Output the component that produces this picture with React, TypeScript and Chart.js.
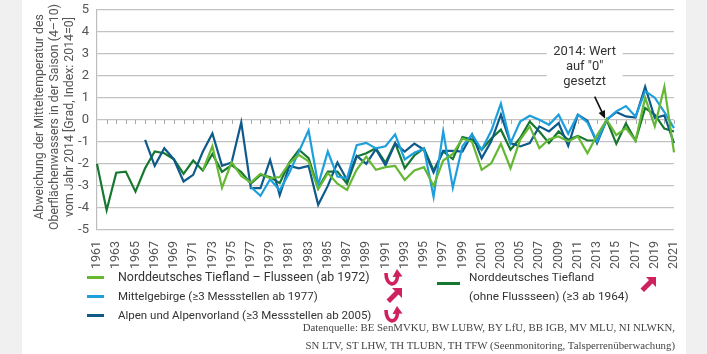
import React, { useEffect, useRef } from "react";
import { Chart, registerables } from "chart.js";

Chart.register(...registerables);

const years = [
  "1961", "1962", "1963", "1964", "1965", "1966", "1967", "1968", "1969", "1970",
  "1971", "1972", "1973", "1974", "1975", "1976", "1977", "1978", "1979", "1980",
  "1981", "1982", "1983", "1984", "1985", "1986", "1987", "1988", "1989", "1990",
  "1991", "1992", "1993", "1994", "1995", "1996", "1997", "1998", "1999", "2000",
  "2001", "2002", "2003", "2004", "2005", "2006", "2007", "2008", "2009", "2010",
  "2011", "2012", "2013", "2014", "2015", "2016", "2017", "2018", "2019", "2020",
  "2021",
];

// Norddeutsches Tiefland – Flusseen (ab 1972)
const flussseen = [
  null, null, null, null, null, null, null, null, null, null, null,
  -2.3, -1.2, -3.08, -1.92, -2.55, -2.85, -2.45, -2.65, -2.6, -1.97,
  -1.59, -1.89, -3.15, -2.42, -2.9, -3.18, -2.27, -1.67, -2.27, -2.15,
  -2.09, -2.73, -2.3, -2.15, -3.0, -1.85, -1.55, -0.85, -1.0, -2.27,
  -1.97, -1.09, -2.2, -0.91, -0.3, -1.29, -0.88, -0.76, -0.98, -0.76,
  -1.52, -0.7, 0, -0.7, -0.38, -0.95, 1.0, -0.3, 1.5, -1.48,
];

// Mittelgebirge (≥3 Messstellen ab 1977)
const mittelgebirge = [
  null, null, null, null, null, null, null, null, null, null,
  null, null, null, null, null, null,
  -3.05, -3.45, -2.7, -3.2, -2.4, -1.44, -0.48, -2.95, -1.44, -2.58,
  -2.65, -1.15, -1.05, -1.3, -1.2, -0.66, -1.8, -1.5, -1.32, -3.5,
  -0.53, -3.08, -1.2, -0.66, -1.36, -0.5, 0.73, -1.06, -0.08, 0.18,
  0, -0.23, 0.23, -0.64, 0.23, -0.12, -0.98, 0, 0.38, 0.62,
  0.15, 1.3, 1.0, 0.35, -0.38,
];

// Alpen und Alpenvorland (≥3 Messstellen ab 2005)
const alpen = [
  null, null, null, null, null,
  -0.91, -2.09, -1.29, -1.8, -2.8, -2.5, -1.45, -0.62, -2.09, -1.94,
  -0.12, -3.1, -3.1, -1.82, -3.42, -2.09, -2.2, -2.09, -3.86, -3.0,
  -1.94, -2.73, -1.64, -2.0, -1.33, -2.07, -1.08, -1.44, -1.08, -1.36,
  -2.39, -1.41, -1.41, -1.44, -0.66, -1.74, -0.98, 0.23, -1.06, -1.21,
  -1.06, -0.3, -0.53, -0.15, -1.18, 0.23, -0.05, -1.06, 0, 0.35,
  0.15, 0.1, 1.5, 0.08, 0.2, -1.06,
];

// Norddeutsches Tiefland (ohne Flussseen) (≥3 ab 1964)
const tiefland = [
  -2.0, -4.1, -2.4, -2.35, -3.26, -2.2, -1.44, -1.52, -1.79, -2.45,
  -1.85, -2.3, -1.55, -2.36, -2.06, -2.37, -2.9, -2.5, -2.6, -2.88,
  -1.94, -1.36, -1.74, -3.1, -2.35, -2.35, -2.9, -1.67, -1.52, -1.29,
  -1.95, -1.05, -2.2, -1.62, -1.3, -2.3, -1.44, -1.78, -0.78, -0.9,
  -1.36, -0.85, -0.45, -1.36, -0.83, -0.08, -0.53, -1.06, -0.53, -0.91,
  -0.73, -0.94, -0.94, 0, -1.09, -0.17, -0.95, 0.53, 0.23, -0.4,
  -0.53,
];

const seriesLabels = [
  "Norddeutsches Tiefland – Flusseen (ab 1972)",
  "Mittelgebirge (≥3 Messstellen ab 1977)",
  "Alpen und Alpenvorland (≥3 Messstellen ab 2005)",
  "Norddeutsches Tiefland (ohne Flussseen) (≥3 ab 1964)",
];
const annotationLines = ["2014: Wert", "auf \"0\"", "gesetzt"];
const annotationYear = "2014";

const C_LGREEN = "#64b834";
const C_LBLUE = "#1c9fdc";
const C_DBLUE = "#0e5a8a";
const C_DGREEN = "#16772f";
const PINK = "#cf215f";
const FONT = "Roboto, 'Noto Sans', sans-serif";

const zeroTicks = {
  id: "zeroTicks",
  beforeDatasetsDraw(chart: any) {
    const { ctx } = chart;
    const x = chart.scales.x;
    const y = chart.scales.y;
    const y0 = Math.round(y.getPixelForValue(0));
    ctx.save();
    ctx.strokeStyle = "#a8a8a8";
    ctx.lineWidth = 1;
    ctx.beginPath();
    for (let i = 1; i < years.length; i++) {
      const px = Math.round(x.getPixelForValue(i)) + 0.5;
      ctx.moveTo(px, y0);
      ctx.lineTo(px, y0 + 4);
    }
    ctx.stroke();
    ctx.restore();
  },
};

const annotation = {
  id: "annotation2014",
  afterDraw(chart: any) {
    const { ctx } = chart;
    const x = chart.scales.x;
    const y = chart.scales.y;
    const tx = x.getPixelForValue(years.indexOf(annotationYear));
    const ty = y.getPixelForValue(0);
    const cx = tx - 22;
    const boxTop = y.getPixelForValue(3.45);
    const boxBottom = y.getPixelForValue(1.36);
    ctx.save();
    ctx.fillStyle = "#ffffff";
    ctx.fillRect(cx - 38, boxTop, 76, boxBottom - boxTop);
    ctx.fillStyle = "#333333";
    ctx.font = `13px ${FONT}`;
    ctx.textAlign = "center";
    ctx.textBaseline = "middle";
    const vals = [3.09, 2.41, 1.73];
    annotationLines.forEach((t, i) => ctx.fillText(t, cx, y.getPixelForValue(vals[i])));
    const sx = tx - 12;
    const sy = y.getPixelForValue(1.05);
    const ex = tx - 1.5;
    const ey = ty - 1;
    const ang = Math.atan2(ey - sy, ex - sx);
    ctx.strokeStyle = "#111";
    ctx.lineWidth = 1.6;
    ctx.beginPath();
    ctx.moveTo(sx, sy);
    ctx.lineTo(ex - 6 * Math.cos(ang), ey - 6 * Math.sin(ang));
    ctx.stroke();
    ctx.fillStyle = "#111";
    ctx.beginPath();
    ctx.moveTo(ex, ey);
    ctx.lineTo(ex - 8 * Math.cos(ang) + 3.5 * Math.sin(ang), ey - 8 * Math.sin(ang) - 3.5 * Math.cos(ang));
    ctx.lineTo(ex - 8 * Math.cos(ang) - 3.5 * Math.sin(ang), ey - 8 * Math.sin(ang) + 3.5 * Math.cos(ang));
    ctx.closePath();
    ctx.fill();
    ctx.restore();
  },
};

function UturnIcon({ left, top }: { left: number; top: number }) {
  return (
    <svg style={{ position: "absolute", left, top }} width="20" height="20" viewBox="0 0 20 20">
      <path d="M3 5 C3 19, 14 19, 14.5 8" stroke={PINK} strokeWidth="3.6" fill="none" strokeLinecap="butt" />
      <polygon points="9.5,9 14,1 19.5,8.5" fill={PINK} />
    </svg>
  );
}

function DiagIcon({ left, top }: { left: number; top: number }) {
  return (
    <svg style={{ position: "absolute", left, top }} width="18" height="18" viewBox="0 0 18 18">
      <polygon points="7,1 17,1 17,11 13.5,7.5 5,16 1.5,12.5 10,4" fill={PINK} />
    </svg>
  );
}

export default function App() {
  const ref = useRef<HTMLCanvasElement>(null);

  useEffect(() => {
    if (!ref.current) return;
    const chart = new Chart(ref.current, {
      type: "line",
      data: {
        labels: years,
        datasets: [
          { label: seriesLabels[0], data: flussseen, borderColor: C_LGREEN, backgroundColor: C_LGREEN },
          { label: seriesLabels[1], data: mittelgebirge, borderColor: C_LBLUE, backgroundColor: C_LBLUE },
          { label: seriesLabels[2], data: alpen, borderColor: C_DBLUE, backgroundColor: C_DBLUE },
          { label: seriesLabels[3], data: tiefland, borderColor: C_DGREEN, backgroundColor: C_DGREEN },
        ].map((d) => ({ ...d, borderWidth: 2.2, pointRadius: 0, tension: 0, spanGaps: false, fill: false })),
      },
      options: {
        animation: false,
        responsive: false,
        devicePixelRatio: 1,
        layout: { padding: { top: 9.5, right: 33, left: 0, bottom: 0 } },
        plugins: { legend: { display: false }, tooltip: { enabled: false } },
        scales: {
          x: {
            type: "category",
            offset: false,
            grid: { display: false },
            border: { display: false },
            ticks: {
              autoSkip: false,
              maxRotation: 90,
              minRotation: 90,
              padding: 3,
              color: "#555",
              font: { family: FONT, size: 12.5 },
              callback: (_v: any, i: number) => (i % 2 === 0 ? years[i] : ""),
            },
            afterFit: (s: any) => {
              s.height = 40;
              s.paddingLeft = 0;
              s.paddingRight = 0;
            },
          },
          y: {
            min: -5,
            max: 5,
            ticks: { stepSize: 1, padding: 8, color: "#555", font: { family: FONT, size: 13 } },
            grid: { color: "#c2c2c2", lineWidth: 1.2, drawTicks: false },
            border: { color: "#bdbdbd", width: 1.2 },
            afterFit: (s: any) => {
              s.width = 97;
              s.paddingTop = 0;
              s.paddingBottom = 0;
            },
          },
        },
      },
      plugins: [zeroTicks, annotation],
    });
    return () => chart.destroy();
  }, []);

  const textStyle = (size: number): React.CSSProperties => ({
    position: "absolute",
    fontFamily: FONT,
    fontSize: size,
    color: "#333",
    lineHeight: "16px",
    whiteSpace: "nowrap",
  });
  const marker = (left: number, top: number, width: number, color: string): React.CSSProperties => ({
    position: "absolute",
    left,
    top,
    width,
    height: 2.5,
    background: color,
  });

  return (
    <div style={{ position: "absolute", left: 0, top: 0, width: 707, height: 354, background: "#f0f0f0", overflow: "hidden" }}>
      <div style={{ position: "absolute", left: 22, top: 0, width: 664, height: 354, background: "#ffffff" }} />
      <canvas ref={ref} width={707} height={270} style={{ position: "absolute", left: 0, top: 0, width: 707, height: 270 }} />
      <div
        style={{
          position: "absolute",
          left: 54.5 - 125,
          top: 117 - 23,
          width: 250,
          height: 46,
          transform: "rotate(-90deg)",
          textAlign: "center",
          fontFamily: FONT,
          fontSize: 12.3,
          lineHeight: "15px",
          color: "#555",
          whiteSpace: "nowrap",
        }}
      >
        Abweichung der Mitteltemperatur des
        <br />
        Oberflächenwassers in der Saison (4–10)
        <br />
        vom Jahr 2014 [Grad, Index: 2014=0]
      </div>

      <div style={marker(87, 276, 17, C_LGREEN)} />
      <div style={{ ...textStyle(12.4), left: 118, top: 269 }}>{seriesLabels[0]}</div>
      <div style={marker(87, 295, 17, C_LBLUE)} />
      <div style={{ ...textStyle(11.5), left: 118, top: 288 }}>{seriesLabels[1]}</div>
      <div style={marker(87, 314, 17, C_DBLUE)} />
      <div style={{ ...textStyle(11.5), left: 118, top: 307 }}>{seriesLabels[2]}</div>
      <UturnIcon left={383} top={268} />
      <DiagIcon left={385} top={287} />
      <UturnIcon left={383} top={305} />

      <div style={marker(437, 282, 23, C_DGREEN)} />
      <div style={{ ...textStyle(11.8), left: 469, top: 269 }}>Norddeutsches Tiefland</div>
      <div style={{ ...textStyle(11.8), left: 469, top: 288 }}>(ohne Flussseen) (≥3 ab 1964)</div>
      <DiagIcon left={639} top={276} />

      <div
        style={{
          position: "absolute",
          right: 32,
          top: 318,
          textAlign: "right",
          fontFamily: "'Liberation Serif', 'DejaVu Serif', serif",
          fontSize: 10.8,
          lineHeight: "18px",
          color: "#444",
          whiteSpace: "nowrap",
        }}
      >
        Datenquelle: BE SenMVKU, BW LUBW, BY LfU, BB IGB, MV MLU, NI NLWKN,
        <br />
        SN LTV, ST LHW, TH TLUBN, TH TFW (Seenmonitoring, Talsperrenüberwachung)
      </div>
    </div>
  );
}
